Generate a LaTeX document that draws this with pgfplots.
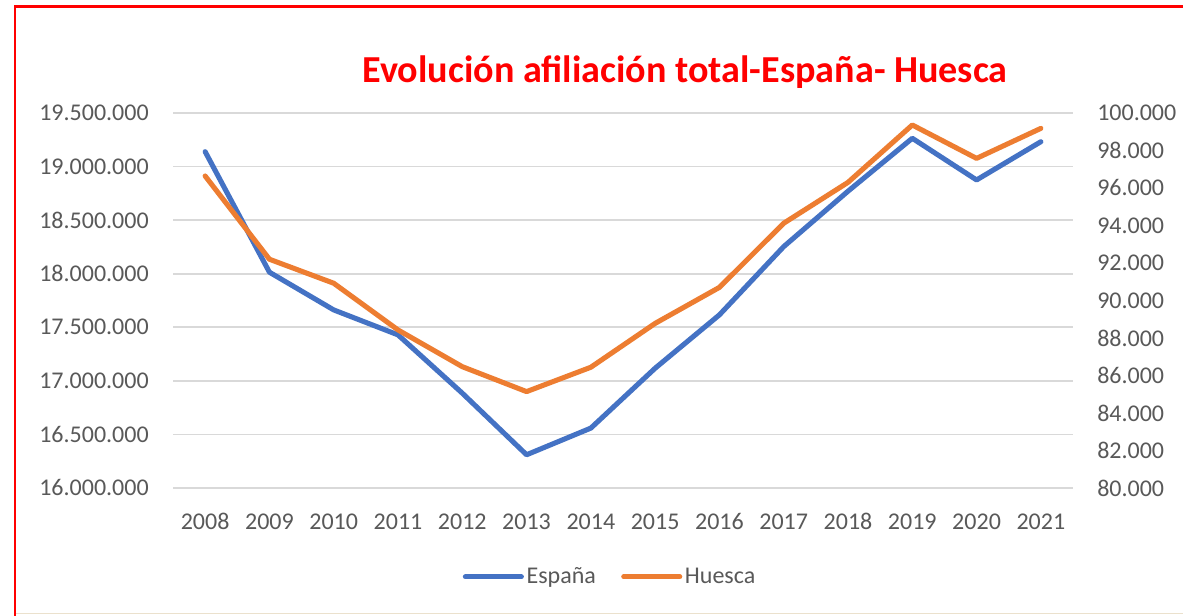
\documentclass[border=0pt]{standalone}
\usepackage{fontspec}
\setmainfont{Carlito}
\usepackage{pgfplots}
\pgfplotsset{compat=1.18}
\definecolor{espblue}{HTML}{4472C4}
\definecolor{huesorange}{HTML}{ED7D31}
\definecolor{tickgray}{HTML}{595959}
\definecolor{gridgray}{HTML}{D9D9D9}
\definecolor{titlered}{HTML}{FF0000}

\pgfplotstableread{
x  esp
0  19139000
1  18014000
2  17662000
3  17429000
4  16885000
5  16310000
6  16559000
7  17118000
8  17616000
9  18253000
10 18770000
11 19264000
12 18875000
13 19232000
}\espana

\pgfplotstableread{
x  hue
0  96640
1  92200
2  90920
3  88430
4  86470
5  85140
6  86440
7  88780
8  90700
9  94120
10 96300
11 99360
12 97580
13 99180
}\huesca

\begin{document}
\begin{tikzpicture}
\path[use as bounding box, fill=white] (0,0) rectangle (1183*0.75pt,616*0.75pt);
% frame
\draw[titlered, line width=1.6pt] (15*0.75pt,0) -- (15*0.75pt,609.5*0.75pt) -- (1183*0.75pt,609.5*0.75pt);
\draw[color={rgb,255:red,235;green,225;blue,205}, line width=1pt] (16*0.75pt,2.5*0.75pt) -- (1183*0.75pt,2.5*0.75pt);
% title
\node[font=\fontsize{28.6}{30}\selectfont\bfseries, text=titlered, anchor=center, inner sep=0pt]
  at (685*0.75pt,544*0.75pt) {Evolución afiliación total-España- Huesca};

\pgfplotsset{
  commonax/.style={
    at={(173*0.75pt,128*0.75pt)}, anchor=south west,
    width=900*0.75pt, height=375*0.75pt, scale only axis,
    xmin=-0.5, xmax=13.5,
    axis line style={draw=none},
    major tick style={draw=none}, minor tick style={draw=none},
    scaled y ticks=false,
    ticklabel style={font=\fontsize{18}{18}\selectfont, text=tickgray},
    /pgf/number format/.cd, fixed, 1000 sep={.}, assume math mode=true,
  },
}

\begin{axis}[commonax,
  ymin=16000000, ymax=19500000,
  ytick={16000000,16500000,17000000,17500000,18000000,18500000,19000000,19500000},
  ymajorgrids, grid style={draw=gridgray, line width=1.3pt},
  xtick={0,...,13},
  xticklabels={2008,2009,2010,2011,2012,2013,2014,2015,2016,2017,2018,2019,2020,2021},
  xticklabel style={inner sep=0pt, anchor=north, yshift=-19pt},
  yticklabel style={inner sep=0pt, anchor=east, xshift=-18pt},
]
\addplot[espblue, line width=3.8pt, line join=round, line cap=round] table[x=x, y=esp] {\espana};
\end{axis}

\begin{axis}[commonax,
  ymin=80000, ymax=100000,
  ytick={80000,82000,...,100000},
  axis y line*=right, hide x axis,
  yticklabel style={inner sep=0pt, anchor=west, xshift=18pt},
  legend style={at={(0.486,-0.237)}, anchor=center, draw=none, fill=none,
    font=\fontsize{18}{18}\selectfont, text=tickgray,
    legend columns=2, inner sep=0pt,
    /tikz/every even column/.append style={column sep=17pt}},
  legend image code/.code={\draw[#1, line cap=round] (0pt,0pt) -- (42pt,0pt);},
  legend cell align=left,
]
\addlegendimage{espblue, line width=3.8pt}
\addlegendentry{España}
\addplot[huesorange, line width=3.8pt, line join=round, line cap=round] table[x=x, y=hue] {\huesca};
\addlegendentry{Huesca}
\end{axis}
\end{tikzpicture}
\end{document}
